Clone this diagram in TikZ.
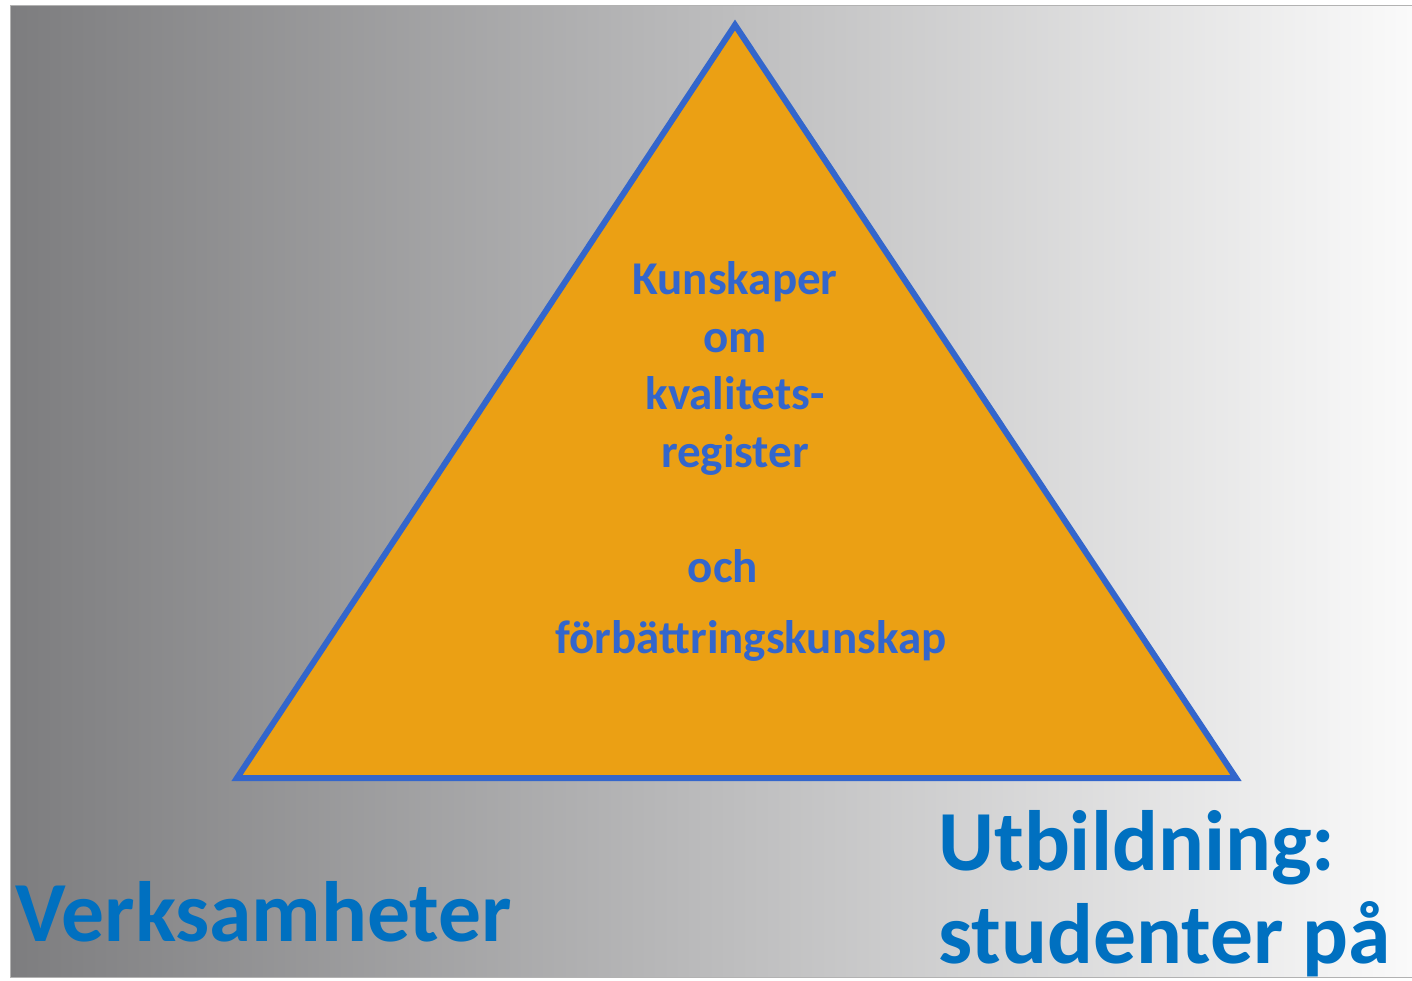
\documentclass[tikz,border=0pt]{standalone}
\usepackage{fontspec}
\setmainfont{Carlito}
\definecolor{edgeblue}{RGB}{51,102,204}
\definecolor{labelblue}{RGB}{0,112,192}
\definecolor{pyrfill}{RGB}{235,160,20}
\definecolor{bgleft}{RGB}{125,125,127}
\definecolor{bgright}{RGB}{250,250,250}
\tikzset{
	inner/.style={text=edgeblue, font=\bfseries\fontsize{23.5}{28.75}\selectfont, align=center, inner sep=0pt, anchor=base},
	corner/.style={text=labelblue, font=\bfseries\fontsize{42.8}{46.5}\selectfont, align=left, inner sep=0pt, anchor=base west}
}
\begin{document}
\begin{tikzpicture}[x=0.5pt, y=-0.5pt]
			\useasboundingbox (0,0) rectangle (1412,980);
			\shade [left color=bgleft, right color=bgright, draw=gray!60, line width=0.5pt] (10,5) rectangle (1412,977);
			\coordinate (top) at (735,25);
			\coordinate (left) at (237,778);
			\coordinate (right) at (1236,778);
			\draw [fill=pyrfill, draw=edgeblue, line width=3pt] (top) -- (left) -- (right) -- cycle;
			% the base of a node of several lines is its last line
			\node [inner] (kunskap) at (735,467) {Kunskaper\\om\\kvalitets-\\register};
			\node [inner] (och) at (723,582) {och};
			\node [inner] (forb) at (751,653) {förbättringskunskap};
			\begin{scope}
				\clip (10,5) rectangle (1412,977);
				\node [corner] (verks) at (15,941) {Verksamheter};
				\node [corner] (utb) at (938,963) {Utbildning:\\studenter på};
			\end{scope}
		\end{tikzpicture}
\end{document}
